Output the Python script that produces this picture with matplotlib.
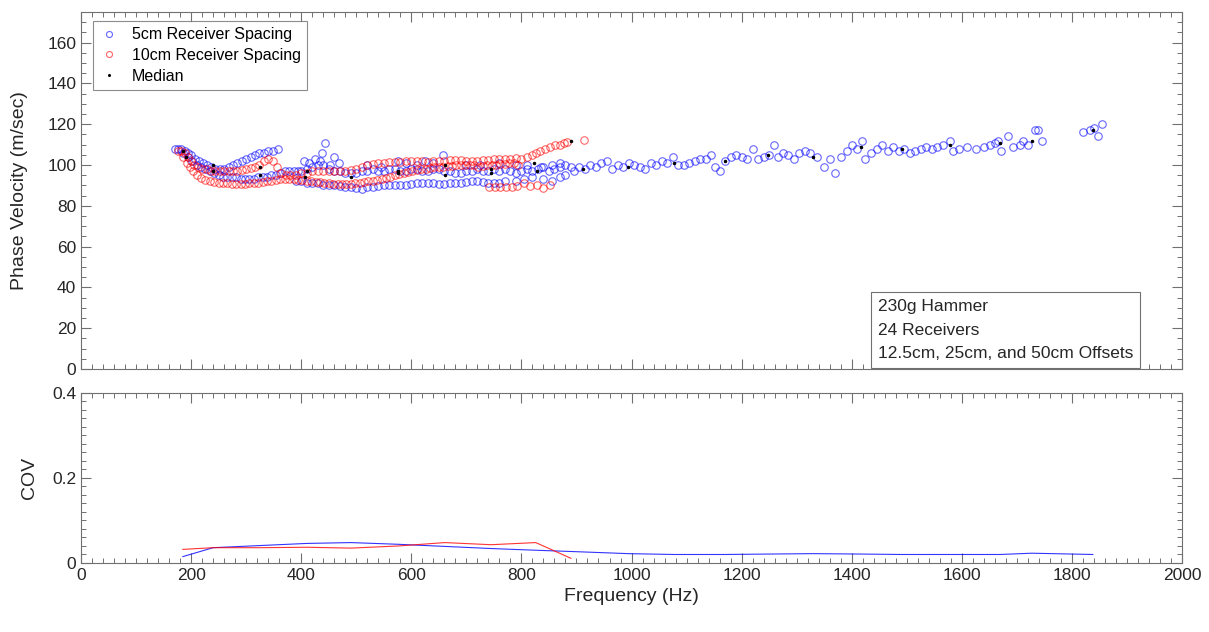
import matplotlib
matplotlib.use("Agg")
import matplotlib.pyplot as plt
from matplotlib.ticker import MultipleLocator

plt.rcParams['font.family'] = ['Liberation Sans', 'DejaVu Sans']

# 5cm receiver spacing (frequency Hz, phase velocity m/s)
b5_upper_f = [170, 176, 182, 188, 194, 200, 207, 214, 221, 228, 236, 244, 252, 260, 268, 276, 284, 292, 300,
              308, 316, 324, 332, 340, 348, 358]
b5_upper_v = [108, 108, 108, 107, 106, 105, 103, 102, 101, 100, 99, 98, 98, 98, 99, 100, 101, 102, 103,
              104, 105, 106, 106, 107, 107, 108]

b5_early_f = [186, 194, 202, 210, 218, 226, 234, 242, 250, 258, 266, 274, 282, 290, 298, 306, 314, 322, 330,
              338, 346, 354, 362, 370, 378, 386, 394]
b5_early_v = [106, 104, 102, 100, 99, 98, 97, 96, 95, 94, 94, 94, 94, 93, 93, 93, 93, 94, 94,
              94, 95, 95, 96, 97, 97, 97, 97]

b5_mid_f = [400, 410, 420, 430, 440, 450, 460, 470, 480, 490, 500, 510, 520, 530, 540, 550, 560, 570, 580, 590,
            600, 610, 620, 630, 640, 650, 660, 670, 680, 690, 700, 710, 720, 730, 740, 750, 760, 770, 780, 790,
            800, 810, 820, 830, 840, 850, 860, 870, 880, 890]
b5_mid_v = [97, 98, 99, 100, 100, 98, 97, 97, 96, 96, 96, 97, 97, 98, 97, 97, 98, 98, 97, 97,
            98, 98, 97, 97, 98, 98, 97, 97, 96, 96, 97, 97, 98, 97, 97, 98, 97, 98, 97, 96,
            97, 98, 97, 98, 99, 97, 98, 99, 100, 99]

b5_scat_f = [405, 415, 425, 435, 437, 443, 452, 460, 468, 520, 545, 575, 590, 610, 625, 640, 658, 700, 725,
             760, 790, 810, 835, 855, 870]
b5_scat_v = [102, 101, 103, 102, 106, 111, 100, 104, 101, 100, 99, 102, 101, 100, 102, 101, 105, 100, 100,
             101, 100, 100, 99, 100, 101]

b5_low_f = [390, 400, 410, 420, 430, 440, 450, 460, 470, 480, 490, 500, 510, 520, 530, 540, 550, 560, 570, 580,
            590, 600, 610, 620, 630, 640, 650, 660, 670, 680, 690, 700, 710, 720, 730, 740, 750, 760, 770,
            790, 805, 820, 840, 855, 870, 880]
b5_low_v = [92, 92, 91, 91, 91, 90, 90, 90, 89.5, 89, 89, 88.5, 88, 89, 89, 89.5, 90, 90, 90, 90,
            90, 90.5, 91, 91, 91, 91, 90.5, 90.5, 91, 91, 91, 91.5, 92, 92, 91.5, 91, 91, 91, 92,
            92, 93, 94, 93, 92, 94, 95]

b5_high_f = [895, 905, 915, 925, 935, 945, 955, 965, 975, 985, 995, 1005, 1015, 1025, 1035, 1045, 1055, 1065,
             1075, 1085, 1095, 1105, 1115, 1125, 1135, 1145, 1152, 1160, 1170, 1180, 1190, 1200, 1210, 1220,
             1230, 1240, 1250, 1258, 1266, 1275, 1285, 1295, 1305, 1315, 1325, 1337, 1350, 1360, 1370, 1380,
             1391, 1400, 1410, 1418, 1425, 1435, 1445, 1455, 1465, 1475, 1485, 1495, 1505, 1515, 1525, 1535,
             1545, 1555, 1565, 1579, 1584, 1595, 1610, 1625, 1640, 1651, 1660, 1666, 1672, 1684, 1693, 1705,
             1711, 1720, 1733, 1739, 1746, 1820, 1833, 1840, 1847, 1854]
b5_high_v = [97, 99, 98, 100, 99, 101, 102, 98, 100, 99, 101, 100, 99, 98, 101, 100, 102, 101,
             104, 100, 100, 101, 102, 103, 103, 105, 99, 97, 102, 104, 105, 104, 103, 108,
             103, 104, 105, 110, 104, 106, 105, 103, 106, 107, 106, 104, 99, 103, 96, 104,
             107, 110, 108, 112, 103, 106, 108, 110, 107, 109, 107, 108, 106, 107, 108, 109,
             108, 109, 110, 112, 107, 108, 109, 108, 109, 110, 111, 112, 107, 114, 109, 110,
             112, 110, 117, 117, 112, 116, 117, 118, 114, 120]

# 10cm receiver spacing
b10_a_f = [176, 182, 188, 194, 200, 206, 212, 220, 228, 236, 244, 252, 260, 268, 276, 284, 292, 300,
           308, 316, 324, 332, 340, 348, 356, 364, 372]
b10_a_v = [107, 107, 106, 104, 102, 100, 99, 98, 98, 97, 97, 97, 97, 97, 97, 97, 97.5, 98,
           98.5, 99, 100, 102, 103, 102, 99, 96, 95]

b10_b_f = [186, 192, 198, 204, 210, 218, 226, 234, 242, 250, 258, 266, 274, 282, 290, 298, 306, 314, 322,
           330, 338, 346, 354, 362, 370, 378, 386, 394, 402, 410, 418, 426, 434, 442, 450, 458, 466, 474,
           482, 490, 498, 506, 514, 522, 530, 538, 546, 554, 562, 570, 578, 586, 594, 602, 610, 618, 626,
           634, 642, 650, 658, 666, 674, 682, 690, 698, 706, 714, 722, 730, 738, 746, 754, 762, 770, 778,
           786, 794]
b10_b_v = [104, 101, 99, 97, 95, 93.5, 92.5, 92, 91.5, 91, 91, 91, 90.5, 90.5, 90.5, 90.5, 91, 91, 91,
           91.5, 92, 92, 92.5, 93, 93, 93, 93, 92.5, 92.5, 92, 92, 91.5, 91.5, 91, 91, 90.5, 90.5, 90.5,
           90.5, 90.5, 91, 91, 91.5, 92, 92, 92.5, 93, 93.5, 94, 95, 95.5, 96, 96.5, 97, 97.5, 98, 98,
           98.5, 99, 99, 99, 99.5, 99.5, 100, 100, 100, 100, 100, 99, 99.5, 100, 100, 100, 100.5, 100.5, 101,
           101, 100]

b10_c_f = [380, 390, 400, 410, 420, 430, 440, 450, 460, 470, 480, 490, 500, 510, 520, 530, 540, 550, 560,
           570, 580, 590, 600, 610, 620, 630, 640, 650, 660, 670, 680, 690, 700, 710, 720, 730, 740, 750,
           760, 770, 780, 790, 800, 810, 819, 827, 834, 843, 852, 861, 870, 877, 883, 914]
b10_c_v = [95, 95, 96, 96, 97, 97, 97, 97, 97, 97, 97, 97.5, 98, 99, 100, 100.5, 101, 101, 101.5,
           101.5, 101.5, 102, 102, 102, 102, 101.5, 102, 102, 102, 102.5, 102.5, 102.5, 102, 102, 102, 102.5,
           102.5, 103, 103, 103, 103, 103.5, 103, 104, 105, 106, 107, 108, 109, 110, 110, 111, 111.5, 112.5]

b10_d_f = [742, 752, 762, 772, 782, 792, 804, 816, 828, 840, 852]
b10_d_v = [89, 89, 89, 89, 89, 89.5, 91, 89.5, 90, 88.5, 90]

# medians
med_f = [185, 191, 240, 240, 325, 325, 407, 410, 490, 576, 576, 661, 661, 745, 745, 823, 828, 890, 912,
         994, 1077, 1170, 1248, 1330, 1417, 1491, 1579, 1669, 1727, 1838]
med_v = [107, 104, 100, 97, 99, 95, 94, 97, 94, 97, 96, 100, 95, 98, 96, 101, 97, 112, 98,
         99, 101, 102, 105, 104, 109, 108, 110, 111, 112, 117]

# COV
cov5_f = [185, 240, 325, 410, 490, 576, 661, 745, 826, 912, 994, 1077, 1170, 1248, 1330, 1417, 1491,
          1579, 1669, 1727, 1838]
cov5 = [0.015, 0.036, 0.041, 0.046, 0.048, 0.044, 0.039, 0.034, 0.030, 0.026, 0.022, 0.020, 0.020,
        0.021, 0.022, 0.021, 0.020, 0.020, 0.020, 0.023, 0.020]
cov10_f = [185, 240, 325, 410, 490, 576, 661, 745, 826, 890]
cov10 = [0.032, 0.036, 0.036, 0.037, 0.035, 0.040, 0.048, 0.043, 0.048, 0.011]

f5 = b5_upper_f + b5_early_f + b5_mid_f + b5_scat_f + b5_low_f + b5_high_f
v5 = b5_upper_v + b5_early_v + b5_mid_v + b5_scat_v + b5_low_v + b5_high_v
f10 = b10_a_f + b10_b_f + b10_c_f + b10_d_f
v10 = b10_a_v + b10_b_v + b10_c_v + b10_d_v

fig = plt.figure(figsize=(12.09, 6.32), dpi=100)
ax1 = fig.add_axes([0.067, 0.4161, 0.9107, 0.5649])
ax2 = fig.add_axes([0.067, 0.1092, 0.9107, 0.269])

spine_col = '#707070'
mk = dict(linestyle='none', marker='o', markersize=5.4, markerfacecolor='none', markeredgewidth=0.8)
ax1.plot(f5, v5, markeredgecolor=(0, 0, 1, 0.6), label='5cm Receiver Spacing', **mk)
ax1.plot(f10, v10, markeredgecolor=(1, 0, 0, 0.6), label='10cm Receiver Spacing', **mk)
ax1.plot(med_f, med_v, linestyle='none', marker='.', markersize=3, color='black', label='Median')

ax2.plot(cov5_f, cov5, color='blue', linewidth=0.8, alpha=0.8)
ax2.plot(cov10_f, cov10, color='red', linewidth=0.8, alpha=0.8)

for ax in (ax1, ax2):
    ax.set_xlim(0, 2000)
    ax.xaxis.set_major_locator(MultipleLocator(200))
    ax.xaxis.set_minor_locator(MultipleLocator(20))
    ax.tick_params(which='both', direction='in', top=True, right=True, colors=spine_col,
                   labelcolor='#262626', labelsize=12.5)
    ax.tick_params(which='major', length=7, width=0.8)
    ax.tick_params(which='minor', length=3.5, width=0.7)
    for s in ax.spines.values():
        s.set_color(spine_col)
        s.set_linewidth(0.8)

ax1.set_ylim(0, 175)
ax1.yaxis.set_major_locator(MultipleLocator(20))
ax1.yaxis.set_minor_locator(MultipleLocator(5))
ax1.set_yticks(range(0, 161, 20))
ax1.tick_params(labelbottom=False)
ax1.set_ylabel('Phase Velocity (m/sec)', fontsize=14, color='#262626', labelpad=14)

ax2.set_ylim(0, 0.4)
ax2.set_yticks([0, 0.2, 0.4])
ax2.set_yticklabels(['0', '0.2', '0.4'])
ax2.yaxis.set_minor_locator(MultipleLocator(0.02))
ax2.set_ylabel('COV', fontsize=14, color='#262626', labelpad=10)
ax2.set_xlabel('Frequency (Hz)', fontsize=14, color='#262626')

leg = ax1.legend(loc='upper left', fontsize=11.5, frameon=True, fancybox=False, markerscale=0.8,
                 handlelength=1.2, handletextpad=0.8, borderpad=0.4, labelspacing=0.35,
                 bbox_to_anchor=(0.004, 0.997))
leg.get_frame().set_edgecolor(spine_col)
leg.get_frame().set_linewidth(0.8)

ax1.text(0.724, 0.022, '230g Hammer\n24 Receivers\n12.5cm, 25cm, and 50cm Offsets',
         transform=ax1.transAxes, fontsize=12.5, color='#262626', linespacing=1.7, va='bottom', ha='left',
         bbox=dict(boxstyle='square,pad=0.4', facecolor='white', edgecolor=spine_col, linewidth=0.8))

fig.savefig('out.png', dpi=100)
